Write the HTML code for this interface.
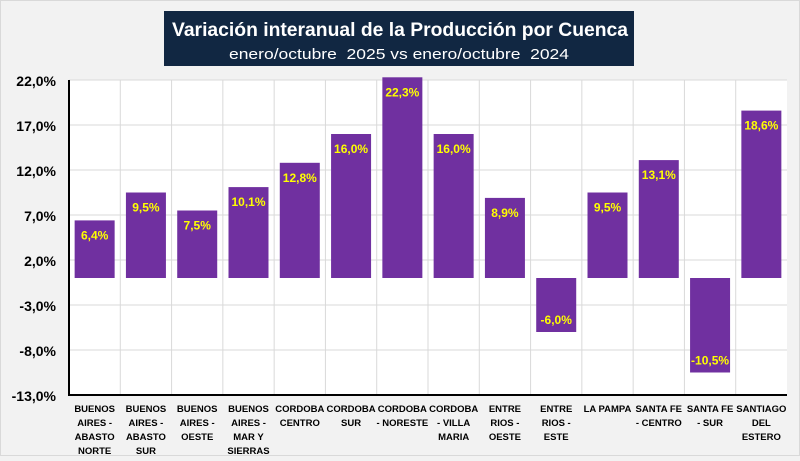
<!DOCTYPE html>
<html><head><meta charset="utf-8"><style>
body{margin:0;width:800px;height:456px;background:#f2f2f2;font-family:"Liberation Sans",sans-serif;overflow:hidden}
</style></head><body>
<svg width="800" height="456" id="c" xmlns="http://www.w3.org/2000/svg">
<rect x="0.5" y="0.5" width="799" height="455" fill="#f2f2f2" stroke="#d9d9d9"/>
<rect x="164" y="11" width="470" height="55" fill="#112742"/>
<text x="172" y="36" fill="#fff" font-size="19" font-weight="bold" textLength="456" lengthAdjust="spacingAndGlyphs">Variación interanual de la Producción por Cuenca</text>
<text x="229" y="59" fill="#fff" font-size="15" textLength="340" lengthAdjust="spacingAndGlyphs" xml:space="preserve">enero/octubre  2025 vs enero/octubre  2024</text>
<rect x="69" y="80" width="718" height="315" fill="#fff"/>
<g id="grid"></g><g id="bars"></g><g id="labels"></g>
</svg>
<script>
const categories=[["BUENOS","AIRES -","ABASTO","NORTE"],["BUENOS","AIRES -","ABASTO","SUR"],["BUENOS","AIRES -","OESTE"],["BUENOS","AIRES -","MAR Y","SIERRAS"],["CORDOBA","CENTRO"],["CORDOBA","SUR"],["CORDOBA","- NORESTE"],["CORDOBA","- VILLA","MARIA"],["ENTRE","RIOS -","OESTE"],["ENTRE","RIOS -","ESTE"],["LA PAMPA"],["SANTA FE","- CENTRO"],["SANTA FE","- SUR"],["SANTIAGO","DEL","ESTERO"]];
const values=[6.4,9.5,7.5,10.1,12.8,16.0,22.3,16.0,8.9,-6.0,9.5,13.1,-10.5,18.6];
const ticks=[22,17,12,7,2,-3,-8,-13];
const NS="http://www.w3.org/2000/svg";
const L=69,R=787,T=80,B=395,yMax=22,yMin=-13;
const y=v=>T+(yMax-v)*(B-T)/(yMax-yMin);
const cw=(R-L)/categories.length;
const x=i=>L+i*cw;
function mk(tag,attrs,parent){const e=document.createElementNS(NS,tag);for(const k in attrs)e.setAttribute(k,attrs[k]);document.getElementById(parent).appendChild(e);return e;}
const fmt=v=>v.toFixed(1).replace('.',',')+'%';
ticks.forEach(t=>{
 const g=mk('line',{x1:L,x2:R,y1:y(t),y2:y(t),stroke:'#d9d9d9'},'grid');
 
 
 const tx=mk('text',{x:56,y:y(t)+6,'text-anchor':'end','font-size':14,'font-weight':'bold',fill:'#000'},'grid');
 tx.textContent=fmt(t);
 
 
});
for(let i=1;i<categories.length;i++){
 const g=mk('line',{x1:x(i),x2:x(i),y1:T,y2:B,stroke:'#d9d9d9'},'grid');
 
 
}
const ax=mk('path',{d:`M${L},${T}V${B}H${R}`,fill:'none',stroke:'#000','stroke-width':2},'grid');


values.forEach((v,i)=>{
 const bw=40,bx=x(i)+(cw-bw)/2;
 const y0=y(0),yv=y(v);
 const r=mk('rect',{x:bx,y:Math.min(y0,yv),width:bw,height:Math.abs(yv-y0),fill:'#7030a0'},'bars');
 
 
 const ly=v>=0?yv+19:yv-8;
 const t=mk('text',{x:bx+bw/2,y:ly,'text-anchor':'middle','font-size':12,'font-weight':'bold',fill:'#ffff00'},'labels');
 t.textContent=fmt(v);
 
 
 const ct=mk('text',{x:x(i)+cw/2,y:412,'text-anchor':'middle','font-size':9.5,'font-weight':'bold',fill:'#000'},'labels');
 
 
 categories[i].forEach((line,j)=>{const s=document.createElementNS(NS,'tspan');s.setAttribute('x',x(i)+cw/2);s.setAttribute('dy',j?14:0);s.textContent=line;ct.appendChild(s);});
});
</script>
</body></html>
